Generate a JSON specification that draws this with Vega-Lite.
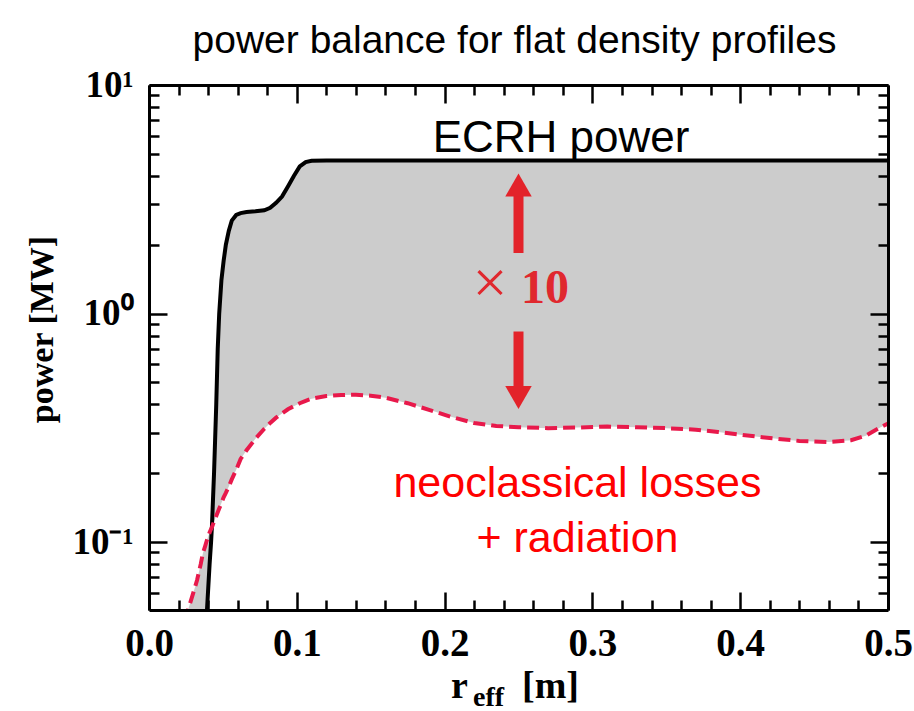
{
  "$schema": "https://vega.github.io/schema/vega-lite/v6.json",
  "width": 739,
  "height": 525,
  "autosize": {"type": "none"},
  "padding": {"left": 149, "top": 85, "right": 26, "bottom": 101},
  "background": "white",
  "title": {"text": "power balance for flat density profiles", "font": "Liberation Sans", "fontSize": 39, "fontWeight": "normal", "color": "black", "anchor": "middle", "frame": "group", "baseline": "bottom", "offset": 23, "dy": 57, "dx": -4},
  "config": {"view": {"stroke": null}, "axis": {"grid": false}},
  "resolve": {"axis": {"x": "independent", "y": "independent"}},
  "datasets": {
    "profiles": [
      {"r": 0.022, "ecrh": 0.005, "loss": 0.038},
      {"r": 0.0264, "ecrh": 0.008, "loss": 0.0504},
      {"r": 0.03, "ecrh": 0.012, "loss": 0.06},
      {"r": 0.0325, "ecrh": 0.016, "loss": 0.068},
      {"r": 0.035, "ecrh": 0.022, "loss": 0.08},
      {"r": 0.0365, "ecrh": 0.028, "loss": 0.0895},
      {"r": 0.038, "ecrh": 0.037, "loss": 0.096},
      {"r": 0.0392, "ecrh": 0.05, "loss": 0.102},
      {"r": 0.041, "ecrh": 0.08, "loss": 0.11},
      {"r": 0.042, "ecrh": 0.1, "loss": 0.114},
      {"r": 0.0426, "ecrh": 0.118, "loss": 0.116},
      {"r": 0.044, "ecrh": 0.2, "loss": 0.123},
      {"r": 0.0455, "ecrh": 0.4, "loss": 0.13},
      {"r": 0.0465, "ecrh": 0.7, "loss": 0.135},
      {"r": 0.0475, "ecrh": 1.0, "loss": 0.14},
      {"r": 0.049, "ecrh": 1.4, "loss": 0.148},
      {"r": 0.0505, "ecrh": 1.7, "loss": 0.157},
      {"r": 0.052, "ecrh": 2.0, "loss": 0.164},
      {"r": 0.054, "ecrh": 2.3, "loss": 0.175},
      {"r": 0.056, "ecrh": 2.55, "loss": 0.188},
      {"r": 0.059, "ecrh": 2.7, "loss": 0.207},
      {"r": 0.062, "ecrh": 2.75, "loss": 0.231},
      {"r": 0.066, "ecrh": 2.78, "loss": 0.252},
      {"r": 0.072, "ecrh": 2.8, "loss": 0.283},
      {"r": 0.078, "ecrh": 2.83, "loss": 0.313},
      {"r": 0.082, "ecrh": 2.9, "loss": 0.332},
      {"r": 0.086, "ecrh": 3.05, "loss": 0.35},
      {"r": 0.09, "ecrh": 3.25, "loss": 0.365},
      {"r": 0.094, "ecrh": 3.6, "loss": 0.381},
      {"r": 0.098, "ecrh": 4.0, "loss": 0.393},
      {"r": 0.102, "ecrh": 4.4, "loss": 0.405},
      {"r": 0.106, "ecrh": 4.6, "loss": 0.415},
      {"r": 0.11, "ecrh": 4.66, "loss": 0.424},
      {"r": 0.12, "ecrh": 4.67, "loss": 0.435},
      {"r": 0.13, "ecrh": 4.67, "loss": 0.44},
      {"r": 0.14, "ecrh": 4.67, "loss": 0.441},
      {"r": 0.15, "ecrh": 4.67, "loss": 0.437},
      {"r": 0.16, "ecrh": 4.67, "loss": 0.428},
      {"r": 0.175, "ecrh": 4.67, "loss": 0.405},
      {"r": 0.19, "ecrh": 4.67, "loss": 0.378},
      {"r": 0.205, "ecrh": 4.67, "loss": 0.352},
      {"r": 0.22, "ecrh": 4.67, "loss": 0.332},
      {"r": 0.235, "ecrh": 4.67, "loss": 0.322},
      {"r": 0.25, "ecrh": 4.67, "loss": 0.318},
      {"r": 0.27, "ecrh": 4.67, "loss": 0.315},
      {"r": 0.29, "ecrh": 4.67, "loss": 0.317},
      {"r": 0.31, "ecrh": 4.67, "loss": 0.32},
      {"r": 0.33, "ecrh": 4.67, "loss": 0.318},
      {"r": 0.35, "ecrh": 4.67, "loss": 0.315},
      {"r": 0.37, "ecrh": 4.67, "loss": 0.31},
      {"r": 0.385, "ecrh": 4.67, "loss": 0.303},
      {"r": 0.4, "ecrh": 4.67, "loss": 0.295},
      {"r": 0.42, "ecrh": 4.67, "loss": 0.285},
      {"r": 0.44, "ecrh": 4.67, "loss": 0.277},
      {"r": 0.46, "ecrh": 4.67, "loss": 0.274},
      {"r": 0.475, "ecrh": 4.67, "loss": 0.279},
      {"r": 0.485, "ecrh": 4.67, "loss": 0.292},
      {"r": 0.495, "ecrh": 4.67, "loss": 0.318},
      {"r": 0.5, "ecrh": 4.67, "loss": 0.33}
    ],
    "shafts": [
      {"r": 0.25, "from": 1.84, "to": 3.3},
      {"r": 0.25, "from": 0.834, "to": 0.47}
    ],
    "heads": [
      {"r": 0.25, "power": 3.65, "dir": "up"},
      {"r": 0.25, "power": 0.429, "dir": "down"}
    ]
  },
  "layer": [
    {
      "data": {"name": "profiles"},
      "mark": {"type": "area", "color": "#cccccc", "clip": true},
      "encoding": {
        "x": {"field": "r", "type": "quantitative", "scale": {"domain": [0, 0.5], "nice": false, "zero": false},
          "axis": {"orient": "bottom", "values": [0, 0.1, 0.2, 0.3, 0.4, 0.5], "format": ".1f", "ticks": false, "domain": false,
            "labelFont": "Liberation Serif", "labelFontWeight": "bold", "labelFontSize": 39, "labelColor": "black", "labelPadding": 45, "labelBaseline": "alphabetic", "labelFlush": false, "labelOverlap": false,
            "title": "r", "titleFont": "Liberation Serif", "titleFontWeight": "bold", "titleFontSize": 38, "titleColor": "black", "titleX": 310, "titleY": 87, "titleBaseline": "alphabetic", "titleAlign": "center", "zindex": 1}},
        "y": {"field": "loss", "type": "quantitative", "scale": {"type": "log", "domain": [0.0504, 10], "nice": false},
          "axis": {"orient": "left", "values": [0.1, 1, 10], "labelExpr": "datum.value > 5 ? '10¹' : datum.value > 0.5 ? '10⁰' : '10⁻¹'", "ticks": false, "domain": false,
            "labelFont": "Liberation Serif", "labelFontWeight": "bold", "labelFontSize": 37, "labelColor": "black", "labelPadding": 16, "labelBaseline": "middle", "labelAlign": "right", "labelFlush": false, "labelOverlap": false,
            "title": "power [MW]", "titleFont": "Liberation Serif", "titleFontWeight": "bold", "titleFontSize": 34, "titleColor": "black", "titleAngle": -90, "titleX": -107, "titleY": 244, "titleBaseline": "middle", "titleAlign": "center", "zindex": 1}},
        "y2": {"field": "ecrh"}
      }
    },
    {
      "data": {"name": "profiles"},
      "mark": {"type": "line", "color": "black", "strokeWidth": 4, "clip": true},
      "encoding": {
        "x": {"field": "r", "type": "quantitative", "scale": {"domain": [0, 0.5], "nice": false, "zero": false},
          "axis": {"orient": "bottom", "values": [0, 0.1, 0.2, 0.3, 0.4, 0.5], "labels": false, "tickSize": -18, "tickWidth": 2.5, "tickColor": "black", "domain": true, "domainWidth": 3, "domainColor": "black",
            "title": "[m]", "titleFont": "Liberation Serif", "titleFontWeight": "bold", "titleFontSize": 38, "titleColor": "black", "titleX": 401, "titleY": 87, "titleBaseline": "alphabetic", "titleAlign": "center", "zindex": 1}},
        "y": {"field": "ecrh", "type": "quantitative", "scale": {"type": "log", "domain": [0.0504, 10], "nice": false},
          "axis": {"orient": "left", "values": [0.1, 1, 10], "labels": false, "tickSize": -18, "tickWidth": 2.5, "tickColor": "black", "domain": true, "domainWidth": 3, "domainColor": "black", "title": null, "zindex": 1}}
      }
    },
    {
      "data": {"name": "profiles"},
      "mark": {"type": "line", "color": "#e8194b", "strokeWidth": 4, "strokeDash": [12, 6], "clip": true},
      "encoding": {
        "x": {"field": "r", "type": "quantitative", "scale": {"domain": [0, 0.5], "nice": false, "zero": false},
          "axis": {"orient": "bottom", "values": [0.02, 0.04, 0.06, 0.08, 0.12, 0.14, 0.16, 0.18, 0.22, 0.24, 0.26, 0.28, 0.32, 0.34, 0.36, 0.38, 0.42, 0.44, 0.46, 0.48], "labels": false, "tickSize": -10, "tickWidth": 2.5, "tickColor": "black", "domain": false,
            "title": "eff", "titleFont": "Liberation Serif", "titleFontWeight": "bold", "titleFontSize": 28, "titleColor": "black", "titleX": 339, "titleY": 95, "titleBaseline": "alphabetic", "titleAlign": "center", "zindex": 1}},
        "y": {"field": "loss", "type": "quantitative", "scale": {"type": "log", "domain": [0.0504, 10], "nice": false},
          "axis": {"orient": "left", "values": [0.06, 0.07, 0.08, 0.09, 0.2, 0.3, 0.4, 0.5, 0.6, 0.7, 0.8, 0.9, 2, 3, 4, 5, 6, 7, 8, 9], "labels": false, "tickSize": -10, "tickWidth": 2.5, "tickColor": "black", "domain": false, "title": null, "zindex": 1}}
      }
    },
    {
      "data": {"name": "shafts"},
      "mark": {"type": "rule", "color": "#e3232a", "strokeWidth": 10},
      "encoding": {
        "x": {"field": "r", "type": "quantitative", "scale": {"domain": [0, 0.5], "nice": false, "zero": false},
          "axis": {"orient": "top", "values": [0, 0.1, 0.2, 0.3, 0.4, 0.5], "labels": false, "tickSize": -18, "tickWidth": 2.5, "tickColor": "black", "domain": true, "domainWidth": 3, "domainColor": "black", "title": null, "zindex": 1}},
        "y": {"field": "from", "type": "quantitative", "scale": {"type": "log", "domain": [0.0504, 10], "nice": false},
          "axis": {"orient": "right", "values": [0.1, 1, 10], "labels": false, "tickSize": -18, "tickWidth": 2.5, "tickColor": "black", "domain": true, "domainWidth": 3, "domainColor": "black", "title": null, "zindex": 1}},
        "y2": {"field": "to"}
      }
    },
    {
      "data": {"name": "heads"},
      "mark": {"type": "point", "filled": true, "color": "#e3232a", "opacity": 1, "size": 700},
      "encoding": {
        "x": {"field": "r", "type": "quantitative", "scale": {"domain": [0, 0.5], "nice": false, "zero": false},
          "axis": {"orient": "top", "values": [0.02, 0.04, 0.06, 0.08, 0.12, 0.14, 0.16, 0.18, 0.22, 0.24, 0.26, 0.28, 0.32, 0.34, 0.36, 0.38, 0.42, 0.44, 0.46, 0.48], "labels": false, "tickSize": -10, "tickWidth": 2.5, "tickColor": "black", "domain": false, "title": null, "zindex": 1}},
        "y": {"field": "power", "type": "quantitative", "scale": {"type": "log", "domain": [0.0504, 10], "nice": false},
          "axis": {"orient": "right", "values": [0.06, 0.07, 0.08, 0.09, 0.2, 0.3, 0.4, 0.5, 0.6, 0.7, 0.8, 0.9, 2, 3, 4, 5, 6, 7, 8, 9], "labels": false, "tickSize": -10, "tickWidth": 2.5, "tickColor": "black", "domain": false, "title": null, "zindex": 1}},
        "shape": {"field": "dir", "type": "nominal", "scale": {"domain": ["up", "down"], "range": ["triangle-up", "triangle-down"]}, "legend": null}
      }
    },
    {
      "data": {"values": [{"label": "ECRH power", "r": 0.2788, "power": 5.09}]},
      "mark": {"type": "text", "font": "Liberation Sans", "fontSize": 44, "color": "black", "align": "center", "baseline": "alphabetic"},
      "encoding": {
        "x": {"field": "r", "type": "quantitative", "axis": null},
        "y": {"field": "power", "type": "quantitative", "axis": null},
        "text": {"field": "label"}
      }
    },
    {
      "data": {"values": [{"label": "×", "r": 0.2307, "power": 1.111}]},
      "mark": {"type": "text", "font": "Liberation Serif", "fontWeight": "normal", "fontSize": 62, "color": "#e0282e", "align": "center", "baseline": "alphabetic"},
      "encoding": {
        "x": {"field": "r", "type": "quantitative", "axis": null},
        "y": {"field": "power", "type": "quantitative", "axis": null},
        "text": {"field": "label"}
      }
    },
    {
      "data": {"values": [{"label": "10", "r": 0.2679, "power": 1.111}]},
      "mark": {"type": "text", "font": "Liberation Serif", "fontWeight": "bold", "fontSize": 48, "color": "#e0282e", "align": "center", "baseline": "alphabetic"},
      "encoding": {
        "x": {"field": "r", "type": "quantitative", "axis": null},
        "y": {"field": "power", "type": "quantitative", "axis": null},
        "text": {"field": "label"}
      }
    },
    {
      "data": {"values": [{"label": "neoclassical losses", "r": 0.2899, "power": 0.1574}, {"label": "+ radiation", "r": 0.2899, "power": 0.0904}]},
      "mark": {"type": "text", "font": "Liberation Sans", "fontSize": 43, "color": "#ff0000", "align": "center", "baseline": "alphabetic"},
      "encoding": {
        "x": {"field": "r", "type": "quantitative", "axis": null},
        "y": {"field": "power", "type": "quantitative", "axis": null},
        "text": {"field": "label"}
      }
    }
  ]
}
